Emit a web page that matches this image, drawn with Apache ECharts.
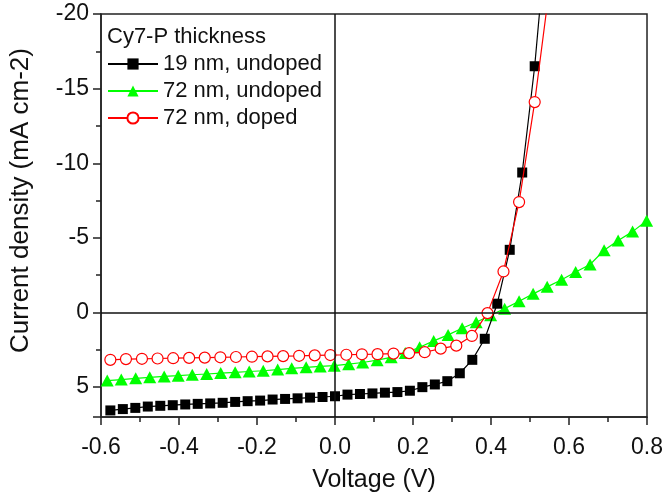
<!DOCTYPE html>
<html><head><meta charset="utf-8">
<script src="https://cdn.jsdelivr.net/npm/echarts@6/dist/echarts.min.js"></script>
<style>html,body{margin:0;padding:0;background:#fff}#c{width:666px;height:498px}</style>
</head><body><div id="c"></div>
<script>
const seriesNames = ['19 nm, undoped', '72 nm, undoped', '72 nm, doped'];
const legendTitle = 'Cy7-P thickness';
const xTitle = 'Voltage (V)';
const yTitle = 'Current density (mA cm-2)';

const voltBlack = [-0.576,-0.544,-0.512,-0.480,-0.448,-0.416,-0.384,-0.352,-0.320,-0.288,-0.256,-0.224,-0.192,-0.160,-0.128,-0.096,-0.064,-0.032,0,0.032,0.064,0.096,0.128,0.160,0.192,0.224,0.256,0.288,0.320,0.352,0.384,0.416,0.448,0.480,0.512,0.544];
const jBlack = [6.56,6.47,6.39,6.30,6.25,6.21,6.16,6.12,6.09,6.05,5.99,5.94,5.90,5.83,5.79,5.75,5.70,5.66,5.61,5.50,5.46,5.42,5.37,5.33,5.24,5.00,4.82,4.60,4.07,3.17,1.76,-0.59,-4.2,-9.38,-16.5,-25.8];

const voltGreen = [-0.584,-0.548,-0.511,-0.475,-0.438,-0.402,-0.366,-0.329,-0.293,-0.256,-0.220,-0.184,-0.147,-0.111,-0.074,-0.038,-0.002,0.035,0.071,0.108,0.144,0.180,0.217,0.253,0.290,0.326,0.362,0.399,0.435,0.472,0.508,0.544,0.581,0.617,0.654,0.690,0.726,0.763,0.799];
const jGreen = [4.56,4.49,4.41,4.34,4.28,4.23,4.17,4.12,4.06,4.01,3.95,3.90,3.82,3.74,3.67,3.61,3.56,3.46,3.35,3.19,3.0,2.71,2.33,1.9,1.5,1.05,0.65,0.18,-0.26,-0.75,-1.25,-1.72,-2.2,-2.71,-3.22,-4.17,-4.83,-5.42,-6.15];

const voltRed = [-0.576,-0.536,-0.495,-0.455,-0.415,-0.374,-0.334,-0.294,-0.254,-0.213,-0.173,-0.133,-0.092,-0.052,-0.012,0.029,0.069,0.109,0.150,0.190,0.230,0.271,0.311,0.351,0.391,0.432,0.472,0.512,0.553];
const jRed = [3.17,3.12,3.10,3.08,3.06,3.04,3.02,3.00,2.98,2.96,2.94,2.92,2.90,2.87,2.85,2.83,2.80,2.79,2.75,2.72,2.66,2.42,2.22,1.57,0.04,-2.75,-7.4,-14.1,-22.4];

const xTicks = ['-0.6','-0.4','-0.2','0.0','0.2','0.4','0.6','0.8'];
const yTicks = ['-20','-15','-10','-5','0','5'];

function pairs(xs, ys){ return xs.map((x,i)=>[x, ys[i]]); }

const FONT = 'Liberation Sans, Arial, sans-serif';
const chart = echarts.init(document.getElementById('c'), null, {renderer:'canvas'});
chart.setOption({
  animation: false,
  backgroundColor: '#fff',
  textStyle: {fontFamily: FONT},
  grid: {left: 97, right: 15, top: 14, bottom: 77, show: true, borderColor: '#222', borderWidth: 1.5, backgroundColor: 'transparent'},
  title: {text: legendTitle, left: 102, top: 21, textStyle: {fontFamily: FONT, fontSize: 22, fontWeight: 'normal', color: '#111'}},
  legend: {
    data: seriesNames, orient: 'vertical', left: 102, top: 48,
    itemWidth: 50, itemHeight: 14, itemGap: 5,
    textStyle: {fontFamily: FONT, fontSize: 22, color: '#111', padding: [0,0,0,0]}
  },
  xAxis: {
    type: 'value', min: -0.6, max: 0.8, interval: 0.2,
    name: xTitle, nameLocation: 'middle', nameGap: 51,
    nameTextStyle: {fontFamily: FONT, fontSize: 25, color: '#111'},
    axisLine: {onZero: false, lineStyle: {color: '#222', width: 1.5}},
    axisTick: {show: true, inside: false, length: 8, lineStyle: {color: '#222', width: 1.5}},
    minorTick: {show: true, splitNumber: 2, length: 5, lineStyle: {color: '#222', width: 1.5}},
    splitLine: {show: false},
    axisLabel: {fontFamily: FONT, fontSize: 23, color: '#111', margin: 19,
      formatter: v => { const i = Math.round((v + 0.6) / 0.2); return xTicks[i] !== undefined ? xTicks[i] : ''; }}
  },
  yAxis: {
    type: 'value', min: -20, max: 7, interval: 5, inverse: true,
    name: yTitle, nameLocation: 'middle', nameGap: 67,
    nameTextStyle: {fontFamily: FONT, fontSize: 26, color: '#111', padding: [0, 0, 0, 30]},
    axisLine: {onZero: false, lineStyle: {color: '#222', width: 1.5}},
    axisTick: {show: true, inside: false, length: 8, lineStyle: {color: '#222', width: 1.5}},
    minorTick: {show: true, splitNumber: 2, length: 5, lineStyle: {color: '#222', width: 1.5}},
    splitLine: {show: false},
    axisLabel: {fontFamily: FONT, fontSize: 23, color: '#111', margin: 12,
      formatter: v => { if (Math.abs(v % 5) > 1e-9) return ''; const i = Math.round((v + 20) / 5); return yTicks[i] !== undefined ? yTicks[i] : ''; }}
  },
  series: [
    {
      name: 'zero', type: 'line', data: [], z: 1, silent: true,
      markLine: {silent: true, symbol: 'none', label: {show: false},
        lineStyle: {color: '#111', width: 1.5, type: 'solid'},
        data: [{xAxis: 0}, {yAxis: 0}]}
    },
    {
      name: seriesNames[0], type: 'line', data: pairs(voltBlack, jBlack), clip: true, z: 3,
      symbol: 'rect', symbolSize: 10, showAllSymbol: true,
      lineStyle: {color: '#000', width: 1.2}, itemStyle: {color: '#000'}
    },
    {
      name: seriesNames[1], type: 'line', data: pairs(voltGreen, jGreen), clip: true, z: 2,
      symbol: 'triangle', symbolSize: [13, 12], showAllSymbol: true,
      lineStyle: {color: '#00ff00', width: 1.2}, itemStyle: {color: '#00ff00'}
    },
    {
      name: seriesNames[2], type: 'line', data: pairs(voltRed, jRed), clip: true, z: 4,
      symbol: 'circle', symbolSize: 11, showAllSymbol: true,
      lineStyle: {color: '#ff0000', width: 1.2}, itemStyle: {color: '#fff', borderColor: '#ff0000', borderWidth: 1.2}
    }
  ]
});
</script></body></html>
